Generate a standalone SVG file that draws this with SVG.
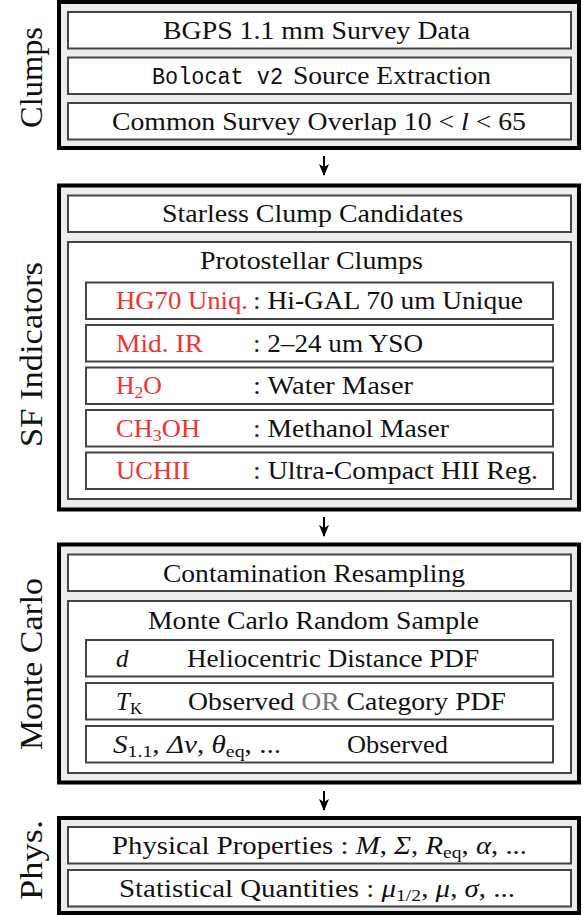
<svg xmlns="http://www.w3.org/2000/svg" width="583" height="915" viewBox="0 0 583 915">
  <style>
    text { font-family: "Liberation Serif", "DejaVu Serif", "Noto Serif", serif; fill: #111; }
    .t { font-size: 25px; }
    .side { font-size: 32px; }
    .it { font-style: italic; }
    .tt { font-family: "Liberation Mono", "DejaVu Sans Mono", monospace; font-size: 23px; }
    .red { fill: #f23232; }
    .gray { fill: #777; }
    .sub { font-size: 17px; }
    .stage { fill: #ececec; stroke: #000; stroke-width: 4; }
    .box { fill: #fff; stroke: #444; stroke-width: 2; }
    .link { stroke: #000; stroke-width: 2; fill: none; marker-end: url(#head); }
  </style>
  <defs>
    <marker id="head" viewBox="0 0 12 10" refX="11" refY="5" markerWidth="12" markerHeight="10" markerUnits="userSpaceOnUse" orient="auto">
      <path d="M0,0 L12,5 L0,10 L3,5 Z" fill="#000"/>
    </marker>
  </defs>

  <rect width="583" height="915" fill="#fff"/>

  <!-- stage 1: clumps -->
  <g id="stage-clumps">
    <rect class="stage" x="59" y="2" width="520" height="146"/>
    <text class="side" transform="translate(42,77.5) rotate(-90)" text-anchor="middle" textLength="101" lengthAdjust="spacingAndGlyphs">Clumps</text>
  </g>
  <g id="bgps">
    <rect class="box" x="68" y="12" width="503" height="36.5"/>
    <text class="t" x="163" y="38.5" textLength="307" lengthAdjust="spacingAndGlyphs">BGPS 1.1 mm Survey Data</text>
  </g>
  <g id="bolocat">
    <rect class="box" x="68" y="57.5" width="503" height="36.5"/>
    <text class="tt" x="152" y="84" textLength="131" lengthAdjust="spacingAndGlyphs">Bolocat v2</text>
    <text class="t" x="293" y="84" textLength="198" lengthAdjust="spacingAndGlyphs">Source Extraction</text>
  </g>
  <g id="overlap">
    <rect class="box" x="68" y="103" width="503" height="36.5"/>
    <text class="t" x="112" y="130" textLength="414" lengthAdjust="spacingAndGlyphs">Common Survey Overlap 10 &lt; <tspan class="it">l</tspan> &lt; 65</text>
  </g>

  <!-- stage 2: star-formation indicators -->
  <g id="stage-sf">
    <rect class="stage" x="59" y="185.5" width="520" height="324"/>
    <text class="side" transform="translate(42,354.5) rotate(-90)" text-anchor="middle" textLength="185" lengthAdjust="spacingAndGlyphs">SF Indicators</text>
  </g>
  <g id="starless">
    <rect class="box" x="68" y="195.5" width="503" height="36.5"/>
    <text class="t" x="162" y="222" textLength="301" lengthAdjust="spacingAndGlyphs">Starless Clump Candidates</text>
  </g>
  <g id="protostellar">
    <rect class="box" x="68" y="242" width="503" height="257"/>
    <text class="t" x="200" y="268.5" textLength="223" lengthAdjust="spacingAndGlyphs">Protostellar Clumps</text>
  </g>
  <g id="hg70">
    <rect class="box" x="86" y="282.5" width="467" height="36.5"/>
    <text class="t red" x="116" y="309" textLength="132" lengthAdjust="spacingAndGlyphs">HG70 Uniq.</text>
    <text class="t" x="253" y="309" textLength="270" lengthAdjust="spacingAndGlyphs">: Hi-GAL 70 um Unique</text>
  </g>
  <g id="midir">
    <rect class="box" x="86" y="325" width="467" height="36.5"/>
    <text class="t red" x="116" y="352" textLength="87" lengthAdjust="spacingAndGlyphs">Mid. IR</text>
    <text class="t" x="253" y="352" textLength="170" lengthAdjust="spacingAndGlyphs">: 2–24 um YSO</text>
  </g>
  <g id="water">
    <rect class="box" x="86" y="367.5" width="467" height="36.5"/>
    <text class="t red" x="116" y="394" textLength="46" lengthAdjust="spacingAndGlyphs">H<tspan class="sub" dy="4">2</tspan><tspan dy="-4">O</tspan></text>
    <text class="t" x="253" y="394" textLength="160" lengthAdjust="spacingAndGlyphs">: Water Maser</text>
  </g>
  <g id="methanol">
    <rect class="box" x="86" y="410" width="467" height="36.5"/>
    <text class="t red" x="116" y="437" textLength="84" lengthAdjust="spacingAndGlyphs">CH<tspan class="sub" dy="4">3</tspan><tspan dy="-4">OH</tspan></text>
    <text class="t" x="253" y="437" textLength="196" lengthAdjust="spacingAndGlyphs">: Methanol Maser</text>
  </g>
  <g id="uchii">
    <rect class="box" x="86" y="452.5" width="467" height="36.5"/>
    <text class="t red" x="116" y="479" textLength="74" lengthAdjust="spacingAndGlyphs">UCHII</text>
    <text class="t" x="253" y="479" textLength="285" lengthAdjust="spacingAndGlyphs">: Ultra-Compact HII Reg.</text>
  </g>

  <!-- stage 3: Monte Carlo -->
  <g id="stage-mc">
    <rect class="stage" x="59" y="544.5" width="520" height="238"/>
    <text class="side" transform="translate(42,664) rotate(-90)" text-anchor="middle" textLength="172" lengthAdjust="spacingAndGlyphs">Monte Carlo</text>
  </g>
  <g id="contamination">
    <rect class="box" x="68" y="554.5" width="503" height="36.5"/>
    <text class="t" x="163" y="582" textLength="302" lengthAdjust="spacingAndGlyphs">Contamination Resampling</text>
  </g>
  <g id="random-sample">
    <rect class="box" x="68" y="601" width="503" height="172"/>
    <text class="t" x="148" y="629" textLength="331" lengthAdjust="spacingAndGlyphs">Monte Carlo Random Sample</text>
  </g>
  <g id="distance">
    <rect class="box" x="86" y="640" width="467" height="36.5"/>
    <text class="t it" x="116" y="667">d</text>
    <text class="t" x="187" y="667" textLength="292" lengthAdjust="spacingAndGlyphs">Heliocentric Distance PDF</text>
  </g>
  <g id="temperature">
    <rect class="box" x="86" y="683" width="467" height="36.5"/>
    <text class="t" x="116" y="710"><tspan class="it">T</tspan><tspan class="sub" dy="4">K</tspan></text>
    <text class="t" x="188" y="710" textLength="318" lengthAdjust="spacingAndGlyphs">Observed <tspan class="gray">OR</tspan> Category PDF</text>
  </g>
  <g id="observed">
    <rect class="box" x="86" y="726" width="467" height="36.5"/>
    <text class="t" x="113" y="753" textLength="168" lengthAdjust="spacingAndGlyphs"><tspan class="it">S</tspan><tspan class="sub" dy="4">1.1</tspan><tspan dy="-4">, </tspan><tspan class="it">Δv</tspan>, <tspan class="it">θ</tspan><tspan class="sub" dy="4">eq</tspan><tspan dy="-4">, ...</tspan></text>
    <text class="t" x="347" y="753" textLength="101" lengthAdjust="spacingAndGlyphs">Observed</text>
  </g>

  <!-- stage 4: physical quantities -->
  <g id="stage-phys">
    <rect class="stage" x="59" y="818" width="520" height="95"/>
    <text class="side" transform="translate(42,860) rotate(-90)" text-anchor="middle" textLength="80" lengthAdjust="spacingAndGlyphs">Phys.</text>
  </g>
  <g id="physical">
    <rect class="box" x="68" y="827" width="503" height="36.5"/>
    <text class="t" x="112" y="854" textLength="415" lengthAdjust="spacingAndGlyphs">Physical Properties : <tspan class="it">M</tspan>, <tspan class="it">Σ</tspan>, <tspan class="it">R</tspan><tspan class="sub" dy="4">eq</tspan><tspan dy="-4">, </tspan><tspan class="it">α</tspan>, ...</text>
  </g>
  <g id="statistical">
    <rect class="box" x="68" y="870" width="503" height="36.5"/>
    <text class="t" x="119" y="897" textLength="396" lengthAdjust="spacingAndGlyphs">Statistical Quantities : <tspan class="it">μ</tspan><tspan class="sub" dy="4">1/2</tspan><tspan dy="-4">, </tspan><tspan class="it">μ</tspan>, <tspan class="it">σ</tspan>, ...</text>
  </g>

  <!-- flow between stages -->
  <g id="connectors">
    <line class="link" x1="324" y1="156" x2="324" y2="175"/>
    <line class="link" x1="324" y1="517" x2="324" y2="536"/>
    <line class="link" x1="324" y1="791" x2="324" y2="810"/>
  </g>
</svg>
